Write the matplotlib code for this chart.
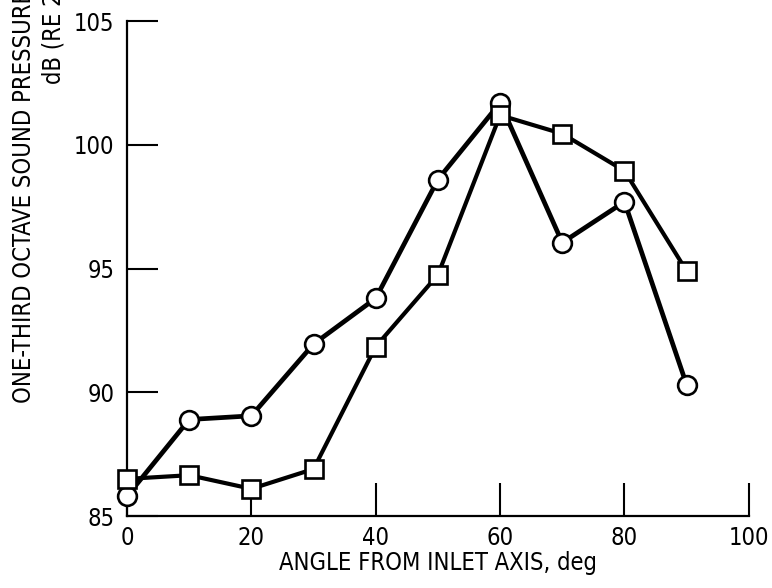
import matplotlib
matplotlib.use("Agg")
import matplotlib.pyplot as plt

plt.rcParams['font.family'] = ['DejaVu Sans']
plt.rcParams['font.stretch'] = 'condensed'

# angle from inlet axis, deg
angle = [0, 10, 20, 30, 40, 50, 60, 70, 80, 90]
# one-third octave SPL, dB
spl_circle = [85.8, 88.9, 89.05, 91.95, 93.8, 98.6, 101.7, 96.05, 97.7, 90.3]
spl_square = [86.5, 86.65, 86.1, 86.9, 91.85, 94.75, 101.2, 100.45, 98.95, 94.9]

xticks = [0, 20, 40, 60, 80, 100]
yticks = [85, 90, 95, 100, 105]

fig = plt.figure(figsize=(7.72, 5.88), dpi=100)
ax = fig.add_axes([0.1645, 0.1224, 0.8055, 0.8416])

ax.plot(angle, spl_circle, color='black', lw=3.4, marker='o', ms=13.5,
        mfc='white', mec='black', mew=1.9, clip_on=False, zorder=3)
ax.plot(angle, spl_square, color='black', lw=3.0, marker='s', ms=12.5,
        mfc='white', mec='black', mew=1.9, clip_on=False, zorder=3)

ax.set_xlim(0, 100)
ax.set_ylim(85, 105)
ax.set_xticks(xticks)
ax.set_yticks(yticks)

for s in ['top', 'right']:
    ax.spines[s].set_visible(False)
for s in ['left', 'bottom']:
    ax.spines[s].set_linewidth(1.6)

ax.tick_params(axis='y', direction='in', length=22, width=1.5, labelsize=17, pad=9)
ax.tick_params(axis='x', direction='in', length=24, width=1.5, labelsize=17, pad=7)

ax.set_xlabel('ANGLE FROM INLET AXIS, deg', fontsize=17, labelpad=1)

# y label, partly cut off by the top edge like the scan
fig.text(24 / 772, 1 - 403 / 588, 'ONE-THIRD OCTAVE SOUND PRESSURE LEVEL,',
         rotation=90, ha='center', va='bottom', fontsize=17)
fig.text(54 / 772, 1 - 84 / 588, 'dB (RE 20 \u03bcN/m\u00b2)',
         rotation=90, ha='center', va='bottom', fontsize=17)

fig.savefig('out.png', dpi=100)
